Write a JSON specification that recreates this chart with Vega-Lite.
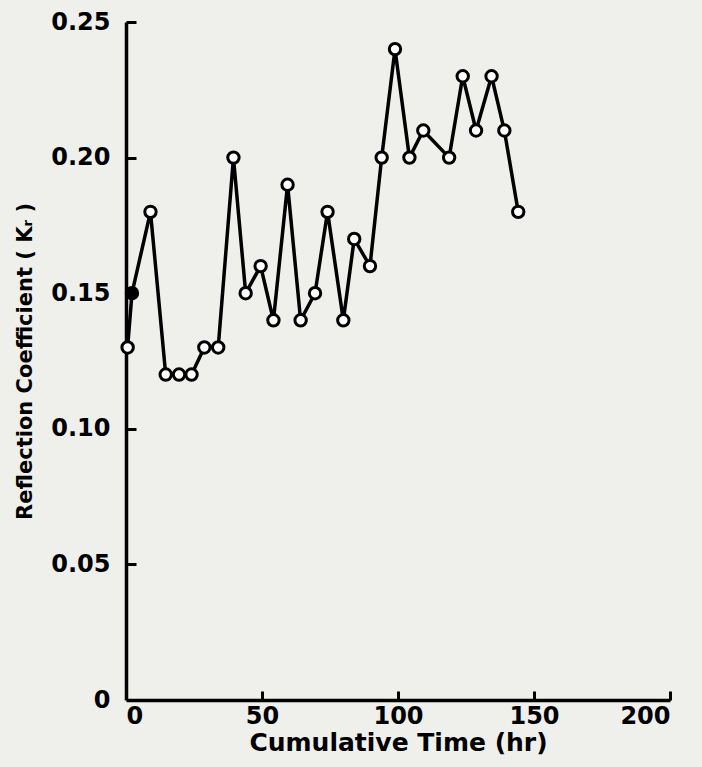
{
  "$schema": "https://vega.github.io/schema/vega-lite/v6.json",
  "width": 544,
  "height": 678,
  "autosize": "none",
  "padding": {"left": 126, "top": 22, "right": 32, "bottom": 67},
  "background": "#efefec",
  "config": {
    "view": {"stroke": null},
    "axis": {
      "grid": false,
      "domainColor": "black",
      "domainWidth": 3.5,
      "tickColor": "black",
      "tickWidth": 3,
      "labelFont": "DejaVu Sans",
      "labelFontWeight": "bold",
      "labelFontSize": 24,
      "labelColor": "black",
      "titleFont": "DejaVu Sans",
      "titleFontWeight": "bold",
      "titleFontSize": 20,
      "titleColor": "black"
    }
  },
  "data": {
    "values": [
      {"t": 0.6, "k": 0.13, "type": "open"},
      {"t": 2.2, "k": 0.15, "type": "filled"},
      {"t": 9, "k": 0.18, "type": "open"},
      {"t": 14.6, "k": 0.12, "type": "open"},
      {"t": 19.5, "k": 0.12, "type": "open"},
      {"t": 24.1, "k": 0.12, "type": "open"},
      {"t": 28.8, "k": 0.13, "type": "open"},
      {"t": 33.9, "k": 0.13, "type": "open"},
      {"t": 39.5, "k": 0.20, "type": "open"},
      {"t": 44, "k": 0.15, "type": "open"},
      {"t": 49.5, "k": 0.16, "type": "open"},
      {"t": 54.2, "k": 0.14, "type": "open"},
      {"t": 59.4, "k": 0.19, "type": "open"},
      {"t": 64.2, "k": 0.14, "type": "open"},
      {"t": 69.5, "k": 0.15, "type": "open"},
      {"t": 74.1, "k": 0.18, "type": "open"},
      {"t": 79.9, "k": 0.14, "type": "open"},
      {"t": 83.9, "k": 0.17, "type": "open"},
      {"t": 89.7, "k": 0.16, "type": "open"},
      {"t": 94, "k": 0.20, "type": "open"},
      {"t": 98.9, "k": 0.24, "type": "open"},
      {"t": 104.2, "k": 0.20, "type": "open"},
      {"t": 109.3, "k": 0.21, "type": "open"},
      {"t": 118.8, "k": 0.20, "type": "open"},
      {"t": 123.8, "k": 0.23, "type": "open"},
      {"t": 128.7, "k": 0.21, "type": "open"},
      {"t": 134.4, "k": 0.23, "type": "open"},
      {"t": 139.1, "k": 0.21, "type": "open"},
      {"t": 144.2, "k": 0.18, "type": "open"}
    ]
  },
  "resolve": {"axis": {"x": "independent", "y": "independent"}},
  "layer": [
    {
      "mark": {"type": "line", "color": "black", "strokeWidth": 3.5},
      "encoding": {
        "x": {
          "field": "t",
          "type": "quantitative",
          "scale": {"domain": [0, 200], "nice": false},
          "axis": {
            "orient": "bottom",
            "title": "Cumulative Time (hr)",
            "titleFontSize": 25,
            "values": [0, 50, 100, 150, 200],
            "ticks": false,
            "labelPadding": 4,
            "titlePadding": 2
          }
        },
        "y": {
          "field": "k",
          "type": "quantitative",
          "scale": {"domain": [0, 0.25], "nice": false},
          "axis": {
            "orient": "left",
            "title": "Reflection Coefficient ( Kᵣ )",
            "titleFontSize": 21,
            "values": [0, 0.05, 0.1, 0.15, 0.2, 0.25],
            "labelExpr": "datum.value == 0 ? '0' : format(datum.value, '.2f')",
            "ticks": false,
            "labelPadding": 16,
            "titlePadding": 15
          }
        }
      }
    },
    {
      "mark": {"type": "point", "shape": "circle", "size": 130, "strokeWidth": 3, "stroke": "black", "opacity": 1},
      "encoding": {
        "x": {
          "field": "t",
          "type": "quantitative",
          "scale": {"domain": [0, 200], "nice": false},
          "axis": {
            "orient": "top",
            "offset": -678,
            "title": null,
            "values": [50, 100, 150, 200],
            "labels": false,
            "domain": false,
            "tickSize": 9
          }
        },
        "y": {
          "field": "k",
          "type": "quantitative",
          "scale": {"domain": [0, 0.25], "nice": false},
          "axis": {
            "orient": "right",
            "offset": -544,
            "title": null,
            "values": [0.05, 0.1, 0.15, 0.2, 0.25],
            "labels": false,
            "domain": false,
            "tickSize": 10
          }
        },
        "fill": {
          "field": "type",
          "type": "nominal",
          "scale": {"domain": ["open", "filled"], "range": ["white", "black"]},
          "legend": null
        }
      }
    }
  ]
}
